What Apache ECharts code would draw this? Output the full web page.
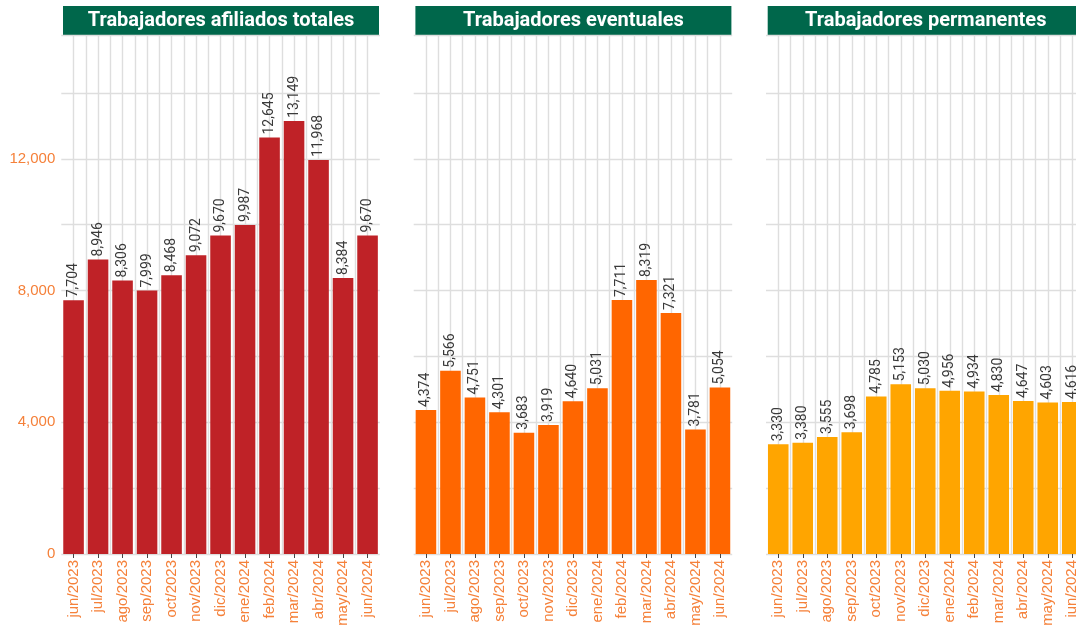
<!DOCTYPE html>
<html lang="es">
<head>
  <meta charset="UTF-8">
  <title>Trabajadores afiliados</title>
  <script src="https://cdn.jsdelivr.net/npm/echarts@6/dist/echarts.min.js"></script>
  <style>
    html, body { margin: 0; padding: 0; background: #fff; }
    #chart { width: 1076px; height: 630px; }
  </style>
</head>
<body>
  <div id="chart"></div>
  <script>
    // datos
    const meses = ['jun/2023','jul/2023','ago/2023','sep/2023','oct/2023','nov/2023','dic/2023','ene/2024','feb/2024','mar/2024','abr/2024','may/2024','jun/2024'];
    const totales = [7704, 8946, 8306, 7999, 8468, 9072, 9670, 9987, 12645, 13149, 11968, 8384, 9670];
    const eventuales = [4374, 5566, 4751, 4301, 3683, 3919, 4640, 5031, 7711, 8319, 7321, 3781, 5054];
    const permanentes = [3330, 3380, 3555, 3698, 4785, 5153, 5030, 4956, 4934, 4830, 4647, 4603, 4616];
    const titulos = ['Trabajadores afiliados totales', 'Trabajadores eventuales', 'Trabajadores permanentes'];
    const colores = ['#BF2227', '#FF6600', '#FFA500'];
    const datosPaneles = [totales, eventuales, permanentes];

    const panelLeft = [61.3, 413.7, 766];
    const panelW = 318.5, gridTop = 35, gridBottom = 76;
    const naranja = '#F5813A';
    const gris = '#dedede';
    const fmt = v => v.toLocaleString('en-US');

    const grid = [], xAxis = [], yAxis = [], series = [], graphic = [];
    panelLeft.forEach((left, i) => {
      // el tercer panel sale del lienzo por la derecha (recortado como en el original)
      grid.push({ left: left, top: gridTop, width: panelW, bottom: gridBottom, outerBoundsMode: 'none' });
      // eje de categorías
      xAxis.push({
        type: 'category', gridIndex: i, data: meses,
        axisLine: { show: false },
        axisTick: { show: true, alignWithLabel: true, length: 4, lineStyle: { color: '#444' } },
        axisLabel: { rotate: 90, color: naranja, fontSize: 15, margin: 6, fontFamily: 'Liberation Sans' },
        splitLine: { show: false }
      });
      // eje oculto solo para las líneas verticales de la rejilla
      xAxis.push({
        type: 'value', gridIndex: i, min: 0, max: meses.length, interval: 0.5,
        axisLine: { show: false }, axisTick: { show: false }, axisLabel: { show: false },
        splitLine: { show: true, showMinLine: false, showMaxLine: false, lineStyle: { color: gris, width: 1.4 } }
      });
      yAxis.push({
        type: 'value', gridIndex: i, min: 0, max: 15760, interval: 2000,
        axisLine: { show: false }, axisTick: { show: false },
        axisLabel: {
          show: i === 0, color: naranja, fontSize: 15, margin: 6, fontFamily: 'Liberation Sans',
          formatter: v => (v % 4000 === 0 ? fmt(v) : '')
        },
        splitLine: { show: true, lineStyle: { color: gris, width: 1.4 } }
      });
      series.push({
        type: 'bar', xAxisIndex: i * 2, yAxisIndex: i, data: datosPaneles[i],
        barCategoryGap: '16%',
        itemStyle: { color: colores[i] },
        label: {
          show: true, position: 'top', rotate: 90, align: 'left', verticalAlign: 'middle',
          distance: 3, color: '#3a3a3a', fontSize: 14, fontFamily: 'Roboto',
          formatter: p => fmt(p.value)
        }
      });
      // franja de título
      graphic.push({
        type: 'group', left: left + 1.7, top: 6,
        children: [
          { type: 'rect', shape: { x: 0, y: 0, width: 316, height: 29 }, style: { fill: '#00674B' } },
          { type: 'text', x: 158, y: 15, style: {
              text: titulos[i], fill: '#fff', font: 'bold 20px Roboto',
              align: 'center', verticalAlign: 'middle' } }
        ]
      });
    });

    const chart = echarts.init(document.getElementById('chart'));
    chart.setOption({
      animation: false,
      grid, xAxis, yAxis, series, graphic
    });
  </script>
</body>
</html>
